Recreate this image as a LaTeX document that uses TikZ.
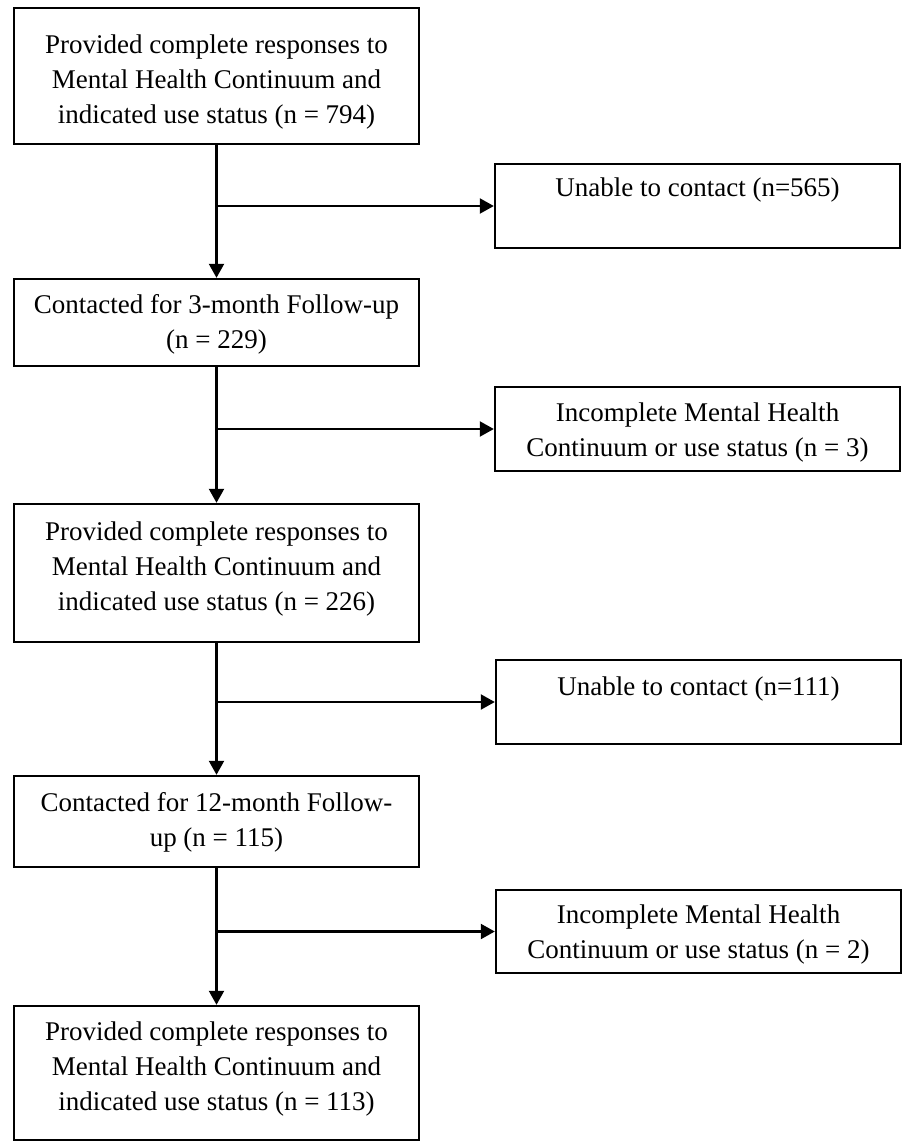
\documentclass[tikz,border=0pt]{standalone}
\usepackage{fontspec}
\setmainfont{Liberation Serif}
\usetikzlibrary{arrows.meta}
\newcommand\flowfont{\fontsize{27}{35}\selectfont}
\begin{document}
\begin{tikzpicture}[x=1pt,y=-1pt,
  box/.style={draw, line width=2.4pt, minimum width=405pt, inner sep=0pt},
  txt/.style={align=center, font=\flowfont, anchor=base, inner sep=0pt},
  arr/.style={line width=2.2pt, -{Triangle[length=14pt,width=15pt]}}]
\useasboundingbox (0,0) rectangle (902,1141);
% left column boxes
\node[box, minimum height=136pt] (b1) at (216.5,76) {};
\node[box, minimum height=87pt] (b2) at (216.5,322.5) {};
\node[box, minimum height=138pt] (b3) at (216.5,573) {};
\node[box, minimum height=91pt] (b4) at (216.5,821.5) {};
\node[box, minimum height=134pt] (b5) at (216.5,1073) {};
% right column boxes
\node[box, minimum height=84pt] (r1) at (697.5,206) {};
\node[box, minimum height=84pt] (r2) at (697.5,429) {};
\node[box, minimum height=84pt] (r3) at (698.5,702) {};
\node[box, minimum height=83pt] (r4) at (698.5,931.5) {};
% texts (base anchor = last line baseline)
\node[txt] (b1t) at (216.5,123) {Provided complete responses to\\Mental Health Continuum and\\indicated use status (n = 794)};
\node[txt] (b2t) at (216.5,348) {Contacted for 3-month Follow-up\\(n = 229)};
\node[txt] (b3t) at (216.5,610) {Provided complete responses to\\Mental Health Continuum and\\indicated use status (n = 226)};
\node[txt] (b4t) at (216.5,846) {Contacted for 12-month Follow-\\up (n = 115)};
\node[txt] (b5t) at (216.5,1110) {Provided complete responses to\\Mental Health Continuum and\\indicated use status (n = 113)};
\node[txt] (r1t) at (697.5,196) {Unable to contact (n=565)};
\node[txt] (r2t) at (697.5,456) {Incomplete Mental Health\\Continuum or use status (n = 3)};
\node[txt] (r3t) at (698.5,695) {Unable to contact (n=111)};
\node[txt] (r4t) at (698.5,958) {Incomplete Mental Health\\Continuum or use status (n = 2)};
% connectors
\draw[arr] (b1.south) -- (b2.north);
\draw[arr] (b2.south) -- (b3.north);
\draw[arr] (b3.south) -- (b4.north);
\draw[arr] (b4.south) -- (b5.north);
\draw[arr] (b1.south |- r1.west) -- (r1.west);
\draw[arr] (b2.south |- r2.west) -- (r2.west);
\draw[arr] (b3.south |- r3.west) -- (r3.west);
\draw[arr] (b4.south |- r4.west) -- (r4.west);
\end{tikzpicture}
\end{document}
